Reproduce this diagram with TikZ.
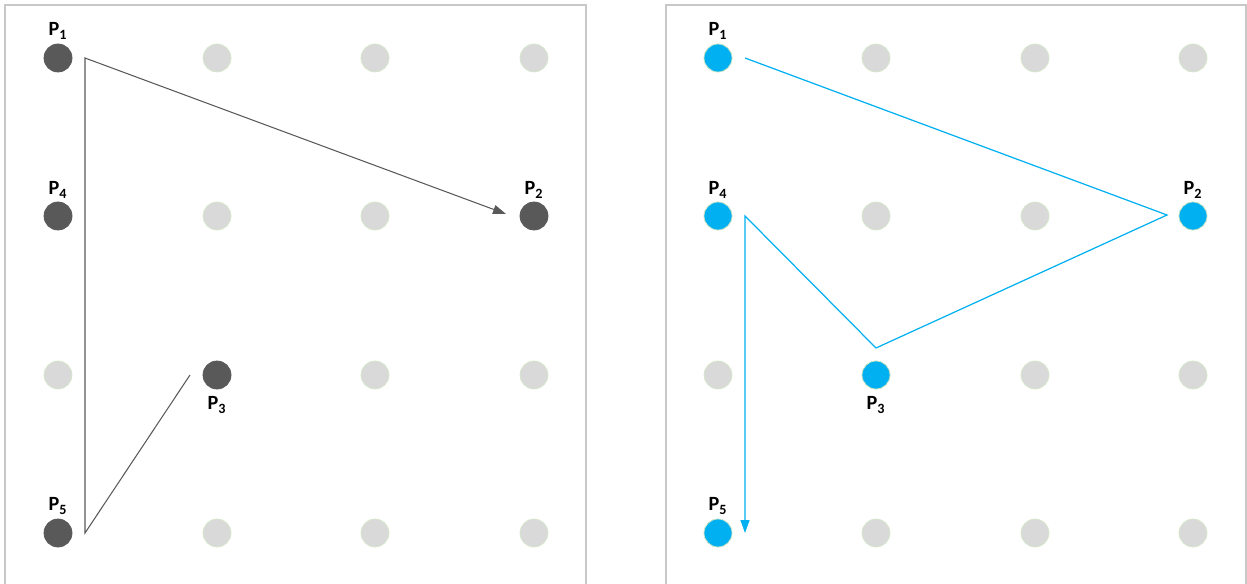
\documentclass[tikz,border=0pt]{standalone}
\usepackage{fontspec}
\setmainfont{Carlito}
\usetikzlibrary{arrows.meta}
\definecolor{darkdot}{HTML}{595959}
\definecolor{lightdot}{HTML}{D9D9D9}
\definecolor{dotrim}{HTML}{D5E8C8}
\definecolor{bluedot}{HTML}{00B0F0}
\definecolor{frame}{HTML}{C8C8C8}
\tikzset{
  dot/.style={circle,minimum size=0.56cm,inner sep=0pt,draw=dotrim,line width=0.4pt},
  graydot/.style={dot,fill=lightdot},
  darkd/.style={dot,fill=darkdot,draw=darkdot},
  blued/.style={dot,fill=bluedot},
  lbl/.style={font=\bfseries\fontsize{11.5}{13}\selectfont,inner sep=0pt},
  panel/.style={draw=frame,line width=0.8pt},
  darkline/.style={draw=darkdot,line width=0.6pt},
  blueline/.style={draw=bluedot,line width=0.7pt},
  tipend/.style={-{Triangle[length=0.26cm,width=0.18cm]}}
}
\begin{document}
\begin{tikzpicture}[x=0.02cm,y=-0.02cm]
\useasboundingbox (0,0) rectangle (1247,584);
% panels
\draw[panel] (5,600) -- (5,5) -- (586,5) -- (586,600);
\draw[panel] (666,600) -- (666,5) -- (1246,5) -- (1246,600);
% grids
\foreach \c [count=\i] in {58,217,375,534}{
  \foreach \r [count=\j] in {58,216,375,533}{
    \node[graydot] (L\i\j) at (\c,\r) {};
  }
}
\foreach \c [count=\i] in {718,876,1035,1193}{
  \foreach \r [count=\j] in {58,216,375,533}{
    \node[graydot] (R\i\j) at (\c,\r) {};
  }
}
% left highlighted
\node[darkd] (lp1) at (58,58) {};
\node[darkd] (lp2) at (534,216) {};
\node[darkd] (lp3) at (217,375) {};
\node[darkd] (lp4) at (58,216) {};
\node[darkd] (lp5) at (58,533) {};
\node[lbl] (tl1) at (58,31) {P\textsubscript{1}};
\node[lbl] (tl2) at (534,190) {P\textsubscript{2}};
\node[lbl] (tl3) at (217,405) {P\textsubscript{3}};
\node[lbl] (tl4) at (58,190) {P\textsubscript{4}};
\node[lbl] (tl5) at (58,506) {P\textsubscript{5}};
% right highlighted
\node[blued] (rp1) at (718,58) {};
\node[blued] (rp2) at (1193,216) {};
\node[blued] (rp3) at (876,375) {};
\node[blued] (rp4) at (718,216) {};
\node[blued] (rp5) at (718,533) {};
\node[lbl] (tr1) at (718,31) {P\textsubscript{1}};
\node[lbl] (tr2) at (1193,190) {P\textsubscript{2}};
\node[lbl] (tr3) at (876,405) {P\textsubscript{3}};
\node[lbl] (tr4) at (718,190) {P\textsubscript{4}};
\node[lbl] (tr5) at (718,506) {P\textsubscript{5}};
% left path vertices
\coordinate (a3) at (190,375);
\coordinate (a5) at (85,533);
\coordinate (a1) at (85,58);
\coordinate (a2) at (506,214);
\draw[darkline,tipend] (a3) -- (a5) -- (a1) -- (a2);
% right path vertices
\coordinate (b1) at (745,58);
\coordinate (b2) at (1167,215);
\coordinate (b3) at (876,348);
\coordinate (b4) at (745,216);
\coordinate (b5) at (745,533);
\draw[blueline,tipend] (b1) -- (b2) -- (b3) -- (b4) -- (b5);
\end{tikzpicture}
\end{document}
